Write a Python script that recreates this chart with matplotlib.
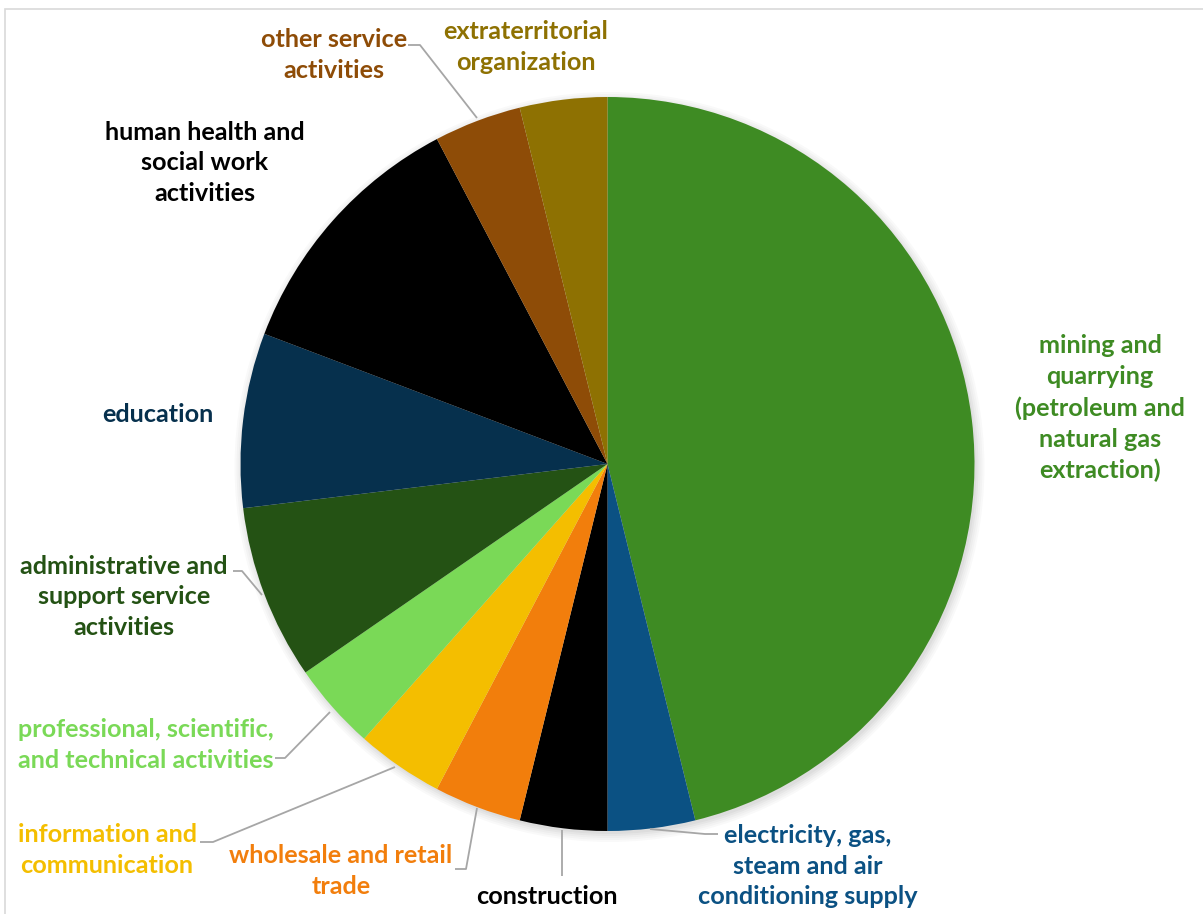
import matplotlib
matplotlib.use("Agg")
import matplotlib.pyplot as plt
from matplotlib.patches import Rectangle, Circle

# ---- data ----
categories = [
    "mining and\nquarrying\n(petroleum and\nnatural gas\nextraction)",
    "electricity, gas,\nsteam and air\nconditioning supply",
    "construction",
    "wholesale and retail\ntrade",
    "information and\ncommunication",
    "professional, scientific,\nand technical activities",
    "administrative and\nsupport service\nactivities",
    "education",
    "human health and\nsocial work\nactivities",
    "other service\nactivities",
    "extraterritorial\norganization",
]
values = [12, 1, 1, 1, 1, 1, 2, 2, 3, 1, 1]
colors = ["#3E8B23", "#0B5183", "#000000", "#F27E0C", "#F4BE00", "#7AD957",
          "#245214", "#06304D", "#000000", "#8E4C07", "#8E7102"]

# ---- layout (pixel coords, y from top) ----
W, H = 1203, 914
cx, cy, R = 607.5, 464, 367
label_pos = [(1100, 408), (808, 866), (547, 897), (341, 871), (107, 850),
             (146, 745), (124, 597), (158, 415), (205, 163), (334, 55), (526, 47)]
leaders = {
    1: [(650, 829), (705, 834), (718, 834)],
    2: [(562, 830), (562, 876)],
    3: [(477, 808), (466, 869), (455, 869)],
    4: [(395, 767), (213, 842), (200, 842)],
    5: [(330, 712), (285, 758), (275, 758)],
    6: [(262, 595), (242, 571), (233, 571)],
    9: [(477, 118), (420, 45), (408, 45)],
}

fig = plt.figure(figsize=(W / 100, H / 100), dpi=100)
ax = fig.add_axes([0, 0, 1, 1])

def Y(y):
    return H - y

# frame
ax.add_patch(Rectangle((5, -10), W + 20, Y(9) + 10, fill=False, ec="#D9D9D9", lw=1.2))

# soft shadow
for i, a in enumerate([0.025, 0.025, 0.025, 0.03, 0.03]):
    ax.add_patch(Circle((cx + 2, Y(cy) - 3), R + 8 - i * 2, color="black", alpha=a, lw=0))

ax.pie(values, colors=colors, startangle=90, counterclock=False,
       center=(cx, Y(cy)), radius=R, frame=True,
       wedgeprops=dict(linewidth=0))
ax.set_xlim(0, W)
ax.set_ylim(0, H)
ax.set_aspect("equal")
ax.axis("off")

for i, (lab, (x, y)) in enumerate(zip(categories, label_pos)):
    ax.text(x, Y(y), lab, ha="center", va="center", color=colors[i],
            fontsize=18.2, fontweight="bold", family="Lato", linespacing=1.42)

for i, pts in leaders.items():
    xs = [p[0] for p in pts]
    ys = [Y(p[1]) for p in pts]
    ax.plot(xs, ys, color="#A6A6A6", lw=1.3, solid_capstyle="butt")

fig.savefig("out.png", dpi=100)
